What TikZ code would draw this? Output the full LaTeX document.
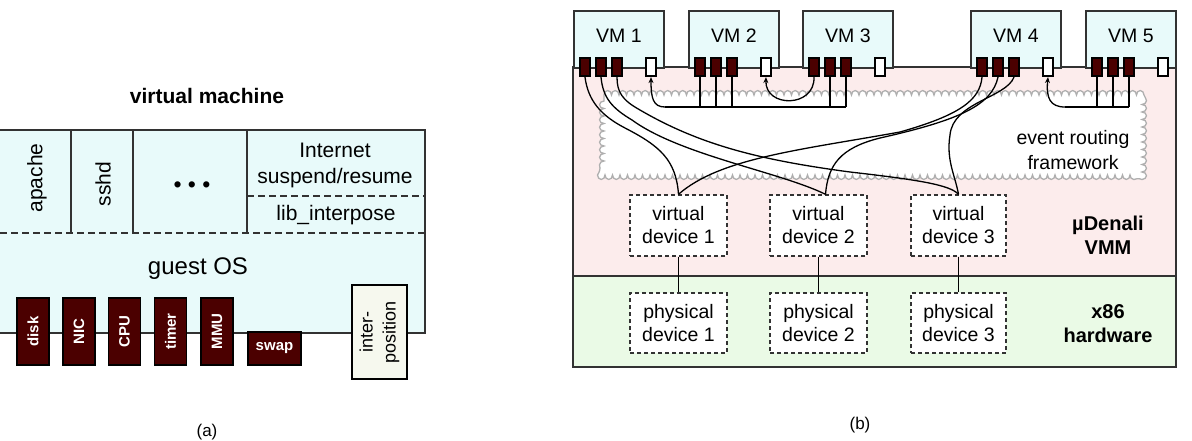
\documentclass[tikz,border=0pt]{standalone}
\usepackage{fontspec}
\setmainfont{Liberation Sans}
\usetikzlibrary{calc,arrows.meta,decorations.pathmorphing}

\definecolor{vmcyan}{RGB}{232,250,250}
\definecolor{vmmpink}{RGB}{252,236,236}
\definecolor{hwgreen}{RGB}{234,250,230}
\definecolor{devred}{RGB}{75,0,0}
\definecolor{boxgray}{RGB}{50,50,50}
\definecolor{cloudgray}{RGB}{175,175,175}
\definecolor{intercream}{RGB}{246,248,238}

\begin{document}
\begin{tikzpicture}[x=1pt, y=-1pt,
    txt/.style = {font=\fontsize{19.5}{23}\selectfont, align=center, inner sep=0pt},
    bigtxt/.style = {font=\fontsize{21}{26}\selectfont, align=center, inner sep=0pt},
    boldtxt/.style = {font=\bfseries\fontsize{20}{24}\selectfont, align=center, inner sep=0pt},
    layer/.style = {draw=boxgray, line width=1.8pt},
    sep/.style = {layer, dash pattern=on 7pt off 4pt},
    dev/.style = {draw=black, fill=devred, line width=1.8pt, text=white, font=\bfseries\fontsize{15}{15}\selectfont, inner sep=0pt},
    port/.style = {draw=black, fill=devred, line width=2.2pt, minimum width=10, minimum height=18, inner sep=0pt},
    wport/.style = {port, fill=white},
    vmbox/.style = {draw=boxgray, fill=vmcyan, line width=1.8pt, minimum width=90, minimum height=57, inner sep=0pt,
                    text height=14pt, text depth=7pt, font=\fontsize{19.5}{23}\selectfont},
    dbox/.style = {draw=boxgray, fill=white, dash pattern=on 4pt off 3pt, line width=1.4pt, minimum width=97, minimum height=61, inner sep=0pt, align=center, font=\fontsize{19.5}{23}\selectfont},
    wire/.style = {line width=1.3pt},
    evarrow/.style = {wire, -{Stealth[length=6pt,width=5pt]}}]

    \useasboundingbox (0,0) rectangle (1192,440);

    % (a) virtual machine
    \node[boldtxt, font=\bfseries\fontsize{21}{26}\selectfont] (vmtitle) at (207,96) {virtual machine};
    \draw[layer, fill=vmcyan] (-5,130) rectangle (425,333);
    \foreach \x in {71,133,247}
        \draw[layer] (\x,130) -- (\x,233);
    \draw[sep] (0,233) -- (425,233);
    \draw[sep] (247,196) -- (425,196);

    \node[bigtxt, rotate=90] (apache) at (37,178) {apache};
    \node[bigtxt, rotate=90] (sshd) at (103,184) {sshd};
    \node[bigtxt, font=\fontsize{23}{26}\selectfont] (dots) at (192,187) {• • •};
    \node[bigtxt] (isr) at (335,165) {Internet\\suspend/resume};
    \node[bigtxt] (libint) at (336,215) {lib\_interpose};
    \node[bigtxt, font=\fontsize{24}{28}\selectfont] (guestos) at (198,269) {guest OS};

    \node[dev, rotate=90, minimum width=67, minimum height=32] (disk) at (33,331.5) {disk};
    \node[dev, rotate=90, minimum width=67, minimum height=32] (nic) at (79,331.5) {NIC};
    \node[dev, rotate=90, minimum width=67, minimum height=32] (cpu) at (124.5,331.5) {CPU};
    \node[dev, rotate=90, minimum width=67, minimum height=32] (timer) at (170.5,331.5) {timer};
    \node[dev, rotate=90, minimum width=67, minimum height=32] (mmu) at (217,331.5) {MMU};
    \node[dev, minimum width=53, minimum height=33] (swap) at (274.5,348.5) {swap};
    \node[draw=black, fill=intercream, line width=2.6pt, rotate=90, minimum width=94, minimum height=55,
          inner sep=0pt, align=center, font=\fontsize{18}{23}\selectfont] (interpos) at (379.5,332) {inter-\\position};

    \node[txt, font=\fontsize{17}{20}\selectfont] (capa) at (207,432) {(a)};

    % (b) muDenali
    \draw[layer, fill=vmmpink] (573,67) rectangle (1176,276);
    \draw[layer, fill=hwgreen] (573,276) rectangle (1176,367);

    % event routing cloud
    \draw[cloudgray, fill=white, line width=1.3pt, decorate,
          decoration={bumps, segment length=15pt, amplitude=4.5pt}]
        (604,95) -- (1142,95) -- (1142,175) -- (604,175) -- cycle;
    \node[txt, font=\fontsize{19.5}{25}\selectfont] (erf) at (1073,150) {event routing\\framework};

    % VMs and their ports
    \foreach \v/\l in {1/573, 2/688, 3/802, 4/970, 5/1085} {
        \node[vmbox, anchor=north west] (vm\v) at (\l,10) {VM \v};
        \foreach \k in {1,2,3}
            \node[port] (vm\v-\k) at ({\l+12+16*(\k-1)},67) {};
        \node[wport] (vm\v-w) at ({\l+78},67) {};
    }

    \node[boldtxt] (vmm) at (1108,235) {µDenali\\VMM};
    \node[boldtxt] (hw) at (1108,323.5) {x86\\hardware};

    % virtual and physical devices
    \node[dbox] (vd1) at (678.5,225.5) {virtual\\device 1};
    \node[dbox] (vd2) at (818.5,225.5) {virtual\\device 2};
    \node[dbox, minimum width=95] (vd3) at (958.5,225.5) {virtual\\device 3};
    \node[dbox, minimum height=60] (pd1) at (678.5,323) {physical\\device 1};
    \node[dbox, minimum height=60] (pd2) at (818.5,323) {physical\\device 2};
    \node[dbox, minimum width=95, minimum height=60] (pd3) at (958.5,323) {physical\\device 3};
    \foreach \d in {1,2,3}
        \draw[wire] (vd\d.south) -- (pd\d.north);

    % event buses
    \coordinate (bus1) at (665,107);
    \coordinate (bus4) at (1065,107);
    \draw[wire] (bus1) -- (vm3-3 |- bus1);
    \foreach \p in {vm2-1,vm2-2,vm2-3,vm3-2,vm3-3}
        \draw[wire] (\p.south) -- (\p |- bus1);
    \draw[evarrow] (bus1) .. controls (653,107) and (651,98) .. (vm1-w.south);
    \draw[evarrow] (vm3-1.south) .. controls (815,108) and (765,108) .. (vm2-w.south);
    \draw[wire] (bus4) -- (vm5-3 |- bus4);
    \foreach \p in {vm5-1,vm5-2,vm5-3}
        \draw[wire] (\p.south) -- (\p |- bus4);
    \draw[evarrow] (bus4) .. controls (1050,107) and (1046,98) .. (vm4-w.south);

    % device channels
    \draw[wire] (vm1-1.south) .. controls (588,100) and (600,115) .. (625,128)
        .. controls (660,146) and (676,160) .. (vd1.north);
    \draw[wire] (vm1-2.south) .. controls (603,98) and (612,108) .. (632,120)
        .. controls (680,155) and (780,172) .. ($(vd2.north)+(7,0)$);
    \draw[wire] (vm1-3.south) .. controls (617,92) and (622,100) .. (640,110)
        .. controls (700,145) and (760,160) .. (850,172)
        .. controls (920,180) and (950,185) .. (vd3.north);
    \draw[wire] (vm4-1.south) .. controls (980,100) and (960,115) .. (900,132)
        .. controls (800,150) and (720,158) .. (vd1.north);
    \draw[wire] (vm4-2.south) .. controls (992,105) and (960,120) .. (880,138)
        .. controls (840,148) and (828,165) .. ($(vd2.north)+(7,0)$);
    \draw[wire] (vm4-3.south) .. controls (1006,98) and (953,102) .. (950,135)
        .. controls (946,160) and (955,175) .. (vd3.north);

    \node[txt, font=\fontsize{17}{20}\selectfont] (capb) at (860,425) {(b)};
\end{tikzpicture}
\end{document}
